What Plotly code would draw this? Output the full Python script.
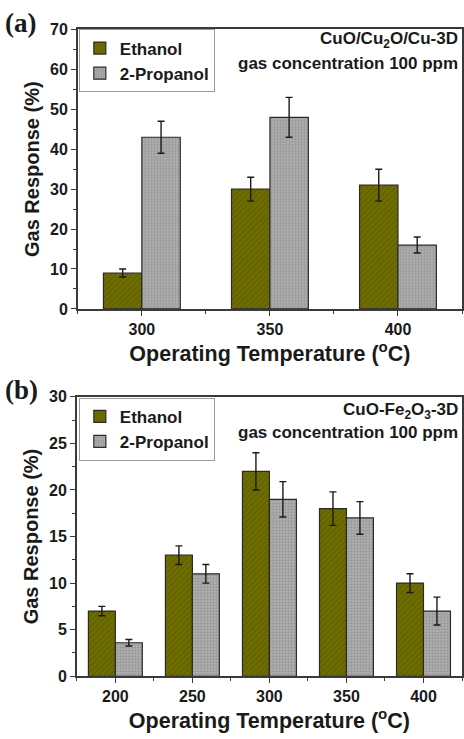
import plotly.graph_objects as go

# Panel (a): CuO/Cu2O/Cu-3D
temps_a = [300, 350, 400]
ethanol_a = [9, 30, 31]
ethanol_a_err = [1, 3, 4]
propanol_a = [43, 48, 16]
propanol_a_err = [4, 5, 2]

# Panel (b): CuO-Fe2O3-3D
temps_b = [200, 250, 300, 350, 400]
ethanol_b = [7, 13, 22, 18, 10]
ethanol_b_err = [0.5, 1, 2, 1.8, 1]
propanol_b = [3.6, 11, 19, 17, 7]
propanol_b_err = [0.35, 1, 1.9, 1.75, 1.5]

W, H = 464, 739
FONT = "Arial, Liberation Sans, sans-serif"
OLIVE = "#6e6e00"
OLIVE_LINE = "#4a4a00"
GREY = "#b0b0b0"
GREY_DOT = "#6a6a6a"
EDGE = "#2a2a2a"

def px_x(p):
    return p / W

def px_y(p):
    return 1 - p / H

fig = go.Figure()

def add_pair(x, eth, eth_err, pro, pro_err, xa, ya, legend, bw):
    common = dict(xaxis=xa, yaxis=ya, legend=legend)
    fig.add_trace(go.Bar(
        x=x, y=eth, name="Ethanol", width=bw, offset=-bw,
        marker=dict(color=OLIVE, line=dict(color=EDGE, width=1.2),
                    pattern=dict(shape="/", fgcolor=OLIVE_LINE, bgcolor=OLIVE,
                                 size=4, solidity=0.25)),
        error_y=dict(type="data", array=eth_err, color="#1a1a1a",
                     thickness=1.4, width=3.5),
        **common))
    fig.add_trace(go.Bar(
        x=x, y=pro, name="2-Propanol", width=bw, offset=0,
        marker=dict(color=GREY, line=dict(color=EDGE, width=1.2),
                    pattern=dict(shape=".", fgcolor=GREY_DOT, bgcolor=GREY,
                                 size=3, solidity=0.35)),
        error_y=dict(type="data", array=pro_err, color="#1a1a1a",
                     thickness=1.4, width=3.5),
        **common))

add_pair(temps_a, ethanol_a, ethanol_a_err, propanol_a, propanol_a_err,
         "x", "y", "legend", 15)
add_pair(temps_b, ethanol_b, ethanol_b_err, propanol_b, propanol_b_err,
         "x2", "y2", "legend2", 17.5)

axis_common = dict(
    showline=True, linecolor="#3a3a3a", linewidth=1.5, mirror=True,
    ticks="outside", ticklen=5, tickwidth=1.3, tickcolor="#3a3a3a",
    showgrid=False, zeroline=False,
    tickfont=dict(family=FONT, size=16, color="#1a1a1a", weight="bold"),
)
xtitle_font = dict(family=FONT, size=21.5, color="#1a1a1a", weight="bold")
ytitle_font = dict(family=FONT, size=20, color="#1a1a1a", weight="bold")

fig.update_layout(
    width=W, height=H,
    margin=dict(l=0, r=0, t=0, b=0),
    paper_bgcolor="white", plot_bgcolor="white",
    showlegend=True,
    xaxis=dict(domain=[px_x(78), px_x(463)], anchor="y",
               range=[275, 425], tick0=300, dtick=50,
               minor=dict(dtick=25, tick0=275, ticks="outside", ticklen=3,
                          tickcolor="#3a3a3a"),
               title=dict(text="Operating Temperature (<sup>o</sup>C)",
                          font=xtitle_font, standoff=6),
               **axis_common),
    yaxis=dict(domain=[px_y(308), px_y(22)], anchor="x",
               range=[0, 70], dtick=10,
               minor=dict(dtick=5, ticks="outside", ticklen=3,
                          tickcolor="#3a3a3a"),
               title=dict(text="Gas Response (%)", font=ytitle_font, standoff=5),
               **axis_common),
    xaxis2=dict(domain=[px_x(77), px_x(463)], anchor="y2",
                range=[175, 425], tick0=200, dtick=50,
                minor=dict(dtick=25, tick0=175, ticks="outside", ticklen=3,
                           tickcolor="#3a3a3a"),
                title=dict(text="Operating Temperature (<sup>o</sup>C)",
                           font=xtitle_font, standoff=8),
                **axis_common),
    yaxis2=dict(domain=[px_y(684), px_y(398)], anchor="x2",
                range=[0, 30], dtick=5,
                minor=dict(dtick=2.5, ticks="outside", ticklen=3,
                           tickcolor="#3a3a3a"),
                title=dict(text="Gas Response (%)", font=ytitle_font, standoff=5),
                **axis_common),
    legend=dict(x=px_x(79), y=px_y(22), xanchor="left", yanchor="top",
                bordercolor="#9a9a9a", borderwidth=1, bgcolor="white",
                font=dict(family=FONT, size=17, color="#1a1a1a", weight="bold"),
                tracegroupgap=0, itemwidth=30),
    legend2=dict(x=px_x(79), y=px_y(399), xanchor="left", yanchor="top",
                 bordercolor="#9a9a9a", borderwidth=1, bgcolor="white",
                 font=dict(family=FONT, size=17, color="#1a1a1a", weight="bold"),
                 tracegroupgap=0, itemwidth=30),
)

note_font = dict(family=FONT, size=17, color="#1a1a1a", weight="bold")
panel_font = dict(family="Liberation Serif, Times New Roman, serif", size=27,
                  color="#1a1a1a", weight="bold")

notes = [
    ("CuO/Cu<sub>2</sub>O/Cu-3D", 33),
    ("gas concentration 100 ppm", 57),
    ("CuO-Fe<sub>2</sub>O<sub>3</sub>-3D", 412),
    ("gas concentration 100 ppm", 435),
]
for text, ypix in notes:
    fig.add_annotation(text=text, xref="paper", yref="paper",
                       x=px_x(461), y=px_y(ypix), xanchor="right",
                       yanchor="middle", showarrow=False, font=note_font)

for text, ypix in [("(a)", 15), ("(b)", 391)]:
    fig.add_annotation(text=text, xref="paper", yref="paper",
                       x=px_x(3), y=px_y(ypix), xanchor="left",
                       yanchor="middle", showarrow=False, font=panel_font)

fig.write_html("out.html")
